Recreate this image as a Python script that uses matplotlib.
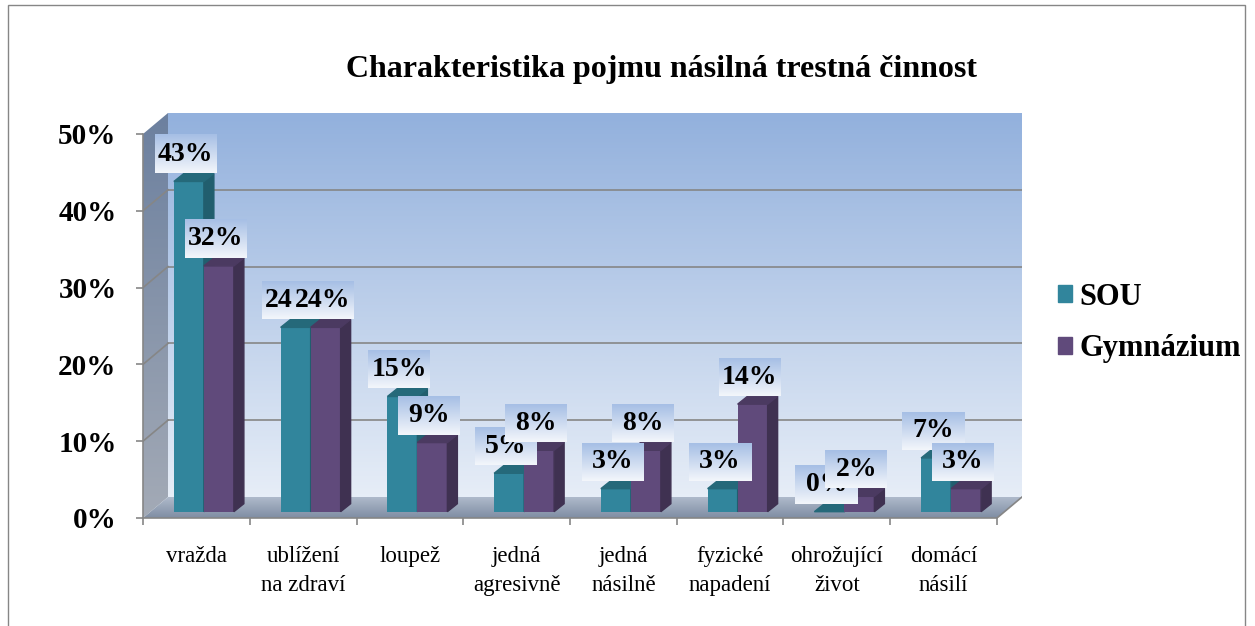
import numpy as np
import matplotlib.pyplot as plt
from matplotlib.patches import Polygon, Rectangle, Patch
from matplotlib.colors import LinearSegmentedColormap

plt.rcParams['font.family'] = ['Liberation Serif', 'DejaVu Serif']

categories = ['vražda', 'ublížení\nna zdraví', 'loupež', 'jedná\nagresivně', 'jedná\nnásilně',
              'fyzické\nnapadení', 'ohrožující\nživot', 'domácí\nnásilí']
series = ['SOU', 'Gymnázium']
sou = [43, 24, 15, 5, 3, 3, 0, 7]
gym = [32, 24, 9, 8, 8, 14, 2, 3]
yticks = [0, 10, 20, 30, 40, 50]

front_cols = ['#31859C', '#604A7B']
side_cols = ['#215E6E', '#3F3151']
top_cols = ['#25697A', '#4B3A61']
grid_col = '#868686'

fig = plt.figure(figsize=(12.55, 6.26), dpi=100)

# pixel -> data helpers (px per category / px per percent)
sx = 106.75
sy = 7.68
def px_x(p):
    return p / sx
def px_y(p):
    return p / sy

ddx, ddy = px_x(25), px_y(21)     # wall depth
ax = fig.add_axes([143 / 1255, (626 - 518) / 626, (1022 - 143) / 1255, (518 - 113) / 626])
ax.set_xlim(-0.5, 7.5 + ddx)
ax.set_ylim(0, 50 + ddy)


def grad(extent, c_bottom, c_top, z, clip=None):
    cmap = LinearSegmentedColormap.from_list('g', [c_bottom, c_top])
    im = ax.imshow(np.linspace(0, 1, 100).reshape(-1, 1), cmap=cmap, extent=extent,
                   origin='lower', aspect='auto', zorder=z, interpolation='bicubic')
    if clip is not None:
        p = Polygon(clip, closed=True, facecolor='none', edgecolor='none', transform=ax.transData)
        ax.add_patch(p)
        im.set_clip_path(p)
    return im

# back wall
grad((-0.5 + ddx, 7.5 + ddx, ddy, 50 + ddy), '#E6EDF7', '#93B1DD', 0)
# side wall
side = [(-0.5, 0), (-0.5, 50), (-0.5 + ddx, 50 + ddy), (-0.5 + ddx, ddy)]
grad((-0.5, -0.5 + ddx, 0, 50 + ddy), '#A3AAB6', '#6C809F', 0, clip=side)
# floor
floor = [(-0.5, 0), (7.5, 0), (7.5 + ddx, ddy), (-0.5 + ddx, ddy)]
grad((-0.5, 7.5 + ddx, 0, ddy), '#7F8DA3', '#AFBACB', 0.5, clip=floor)
ax.plot([7.5, 7.5 + ddx], [0, ddy], color=grid_col, lw=1.2, zorder=1)

# gridlines
for v in yticks[1:-1]:
    ax.plot([-0.5 + ddx, 7.5 + ddx], [v + ddy, v + ddy], color=grid_col, lw=1.2, zorder=1)
    ax.plot([-0.5, -0.5 + ddx], [v, v + ddy], color=grid_col, lw=1.2, zorder=1)

# bars
w = px_x(30)
bsx, bsy = 0.3 * ddx, 0.3 * ddy
bdx, bdy = px_x(10), px_y(8)
x = np.arange(len(categories))
for k, vals in enumerate([sou, gym]):
    lefts = x - w + k * w + bsx
    ax.bar(lefts, vals, width=w, bottom=bsy, align='edge', color=front_cols[k], zorder=3 + k)
    for xl, v in zip(lefts, vals):
        xr = xl + w
        top = bsy + v
        ax.add_patch(Polygon([(xr, bsy), (xr, top), (xr + bdx, top + bdy), (xr + bdx, bsy + bdy)],
                             closed=True, color=side_cols[k], zorder=3 + k))
        ax.add_patch(Polygon([(xl, top), (xr, top), (xr + bdx, top + bdy), (xl + bdx, top + bdy)],
                             closed=True, color=top_cols[k], zorder=3 + k))

# data labels
lab_cmap = LinearSegmentedColormap.from_list('lab', ['#F3F6FB', '#A6BFE5'])
bw, bh = px_x(62), px_y(38)
for i in range(len(categories)):
    for k, vals in enumerate([sou, gym]):
        v = vals[i]
        cx = x[i] - w + k * w + bsx + w / 2 - px_x(3)
        cy = bsy + v + px_y(27)
        z = 10 + 2 * i + k
        ax.imshow(np.linspace(0, 1, 50).reshape(-1, 1), cmap=lab_cmap,
                  extent=(cx - bw / 2, cx + bw / 2, cy - bh / 2, cy + bh / 2),
                  origin='lower', aspect='auto', zorder=z, clip_on=False)
        ax.text(cx, cy, f'{v}%', ha='center', va='center', fontsize=20, fontweight='bold',
                zorder=z + 0.5, clip_on=False)

ax.set_xlim(-0.5, 7.5 + ddx)
ax.set_ylim(0, 50 + ddy)

# axes
for s in ['top', 'right']:
    ax.spines[s].set_visible(False)
ax.spines['left'].set_bounds(0, 50)
ax.spines['bottom'].set_bounds(-0.5, 7.5)
for s in ['left', 'bottom']:
    ax.spines[s].set_color(grid_col)
    ax.spines[s].set_linewidth(1.2)
    ax.spines[s].set_zorder(2)

ax.set_yticks(yticks)
ax.set_yticklabels([f'{t}%' for t in yticks], fontsize=21, fontweight='bold')
ax.tick_params(axis='y', length=5, width=1.2, color=grid_col, pad=14)

ax.set_xticks(np.arange(-0.5, 8, 1))
ax.set_xticklabels([])
ax.tick_params(axis='x', which='major', length=5, width=1.2, color=grid_col)
ax.set_xticks(x, minor=True)
ax.set_xticklabels(categories, minor=True, fontsize=16.5)
ax.tick_params(axis='x', which='minor', length=0, pad=20)
for t in ax.get_xticklabels(minor=True):
    t.set_linespacing(1.5)

fig.text(661 / 1255, 1 - 70 / 626, 'Charakteristika pojmu násilná trestná činnost',
         ha='center', va='center', fontsize=23, fontweight='bold')

fig.legend(handles=[Patch(color=c) for c in front_cols], labels=series, loc='center left',
           bbox_to_anchor=(1058 / 1255, 1 - 323 / 626), frameon=False,
           prop={'size': 22, 'weight': 'bold'}, handlelength=0.45, handleheight=0.45,
           handletextpad=0.25, labelspacing=0.75, borderaxespad=0, borderpad=0)

fig.add_artist(Rectangle((8 / 1255, -0.05), (1245 - 8) / 1255, 1.05 - 5 / 626,
                         transform=fig.transFigure, fill=False, edgecolor=grid_col, lw=1))

fig.savefig('out.png', dpi=100)
